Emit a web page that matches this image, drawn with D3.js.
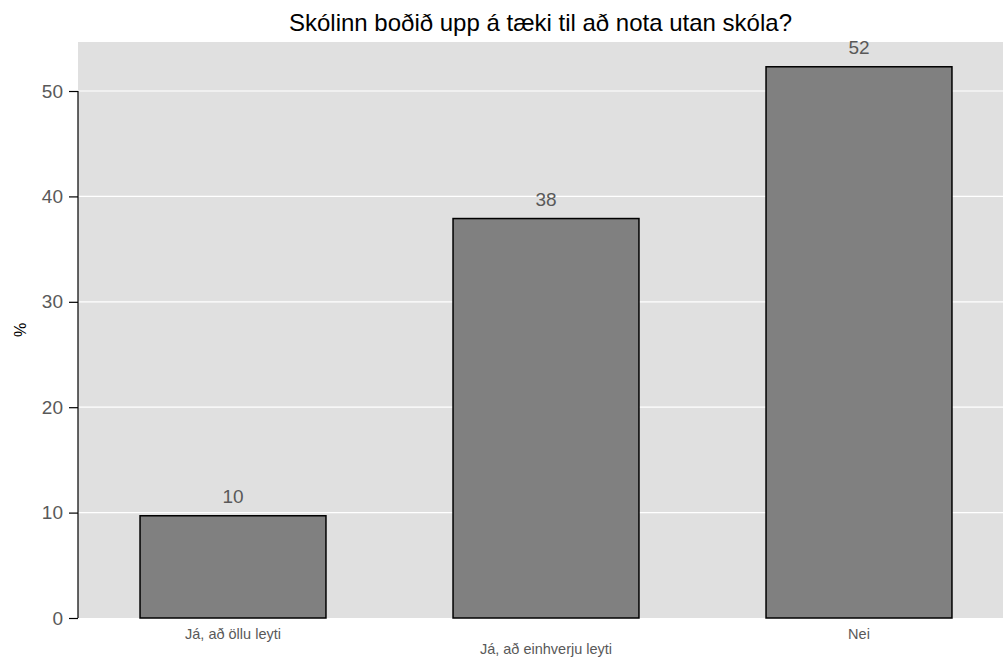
<!DOCTYPE html>
<html><head><meta charset="utf-8">
<script src="https://cdn.jsdelivr.net/npm/d3@7"></script>
<style>body{margin:0;background:#fff;font-family:"Liberation Sans",Arial,sans-serif}</style>
</head><body>
<svg id="c" width="1003" height="662"></svg>
<script>
const categories = ["Já, að öllu leyti", "Já, að einhverju leyti", "Nei"];
const values = [9.7, 37.9, 52.3];
const valueLabels = ["10", "38", "52"];
const yTicks = [0, 10, 20, 30, 40, 50];
const title = "Skólinn boðið upp á tæki til að nota utan skóla?";
const yLabel = "%";

const svg = d3.select("#c");
const panel = {left: 78, right: 1003, top: 42, bottom: 618};

const y = d3.scaleLinear().domain([0, 54.65]).range([panel.bottom, panel.top]);
const x = d3.scaleBand().domain(categories).range([76.5, 1015.5]).paddingInner(0.406).paddingOuter(0.203);

svg.append("rect").attr("x", panel.left).attr("y", panel.top)
  .attr("width", panel.right - panel.left).attr("height", panel.bottom - panel.top)
  .attr("fill", "#e0e0e0");

svg.append("g").selectAll("line").data(yTicks.filter(d => d > 0)).join("line")
  .attr("x1", panel.left).attr("x2", panel.right)
  .attr("y1", d => y(d)).attr("y2", d => y(d))
  .attr("stroke", "#ffffff").attr("stroke-width", 1.2);

svg.append("g").selectAll("rect").data(values).join("rect")
  .attr("x", (d, i) => x(categories[i]))
  .attr("width", x.bandwidth())
  .attr("y", d => y(d))
  .attr("height", d => y(0) - y(d))
  .attr("fill", "#808080").attr("stroke", "#000").attr("stroke-width", 1.5);

svg.append("g").selectAll("text").data(values).join("text")
  .attr("x", (d, i) => x(categories[i]) + x.bandwidth() / 2)
  .attr("y", d => y(d) - 13)
  .attr("text-anchor", "middle").attr("font-size", 19).attr("fill", "#595959")
  .text((d, i) => valueLabels[i]);

// y axis
const yAxis = d3.axisLeft(y).tickValues(yTicks).tickSize(9).tickPadding(6).tickFormat(d3.format("d"));
const ga = svg.append("g").attr("transform", `translate(${panel.left},0)`).call(yAxis);
ga.select(".domain").remove();
ga.append("line").attr("x1", 0).attr("x2", 0).attr("y1", y(0)).attr("y2", y(50)).attr("stroke", "#000").attr("stroke-width", 1.2);
ga.selectAll(".tick line").attr("stroke", "#000").attr("stroke-width", 1.2);
ga.selectAll(".tick text").attr("font-size", 19).attr("fill", "#595959").attr("font-family", "Liberation Sans, Arial, sans-serif");

// x labels (staggered)
svg.append("g").selectAll("text").data(categories).join("text")
  .attr("x", d => x(d) + x.bandwidth() / 2)
  .attr("y", (d, i) => i % 2 === 0 ? 639 : 654)
  .attr("text-anchor", "middle").attr("font-size", 14.5).attr("fill", "#595959")
  .text(d => d);

svg.append("text").attr("x", (panel.left + panel.right) / 2).attr("y", 31)
  .attr("text-anchor", "middle").attr("font-size", 24).attr("fill", "#000").text(title);

svg.append("text").attr("transform", "translate(26,330) rotate(-90)")
  .attr("text-anchor", "middle").attr("font-size", 16).attr("fill", "#000").text(yLabel);
</script>
</body></html>
